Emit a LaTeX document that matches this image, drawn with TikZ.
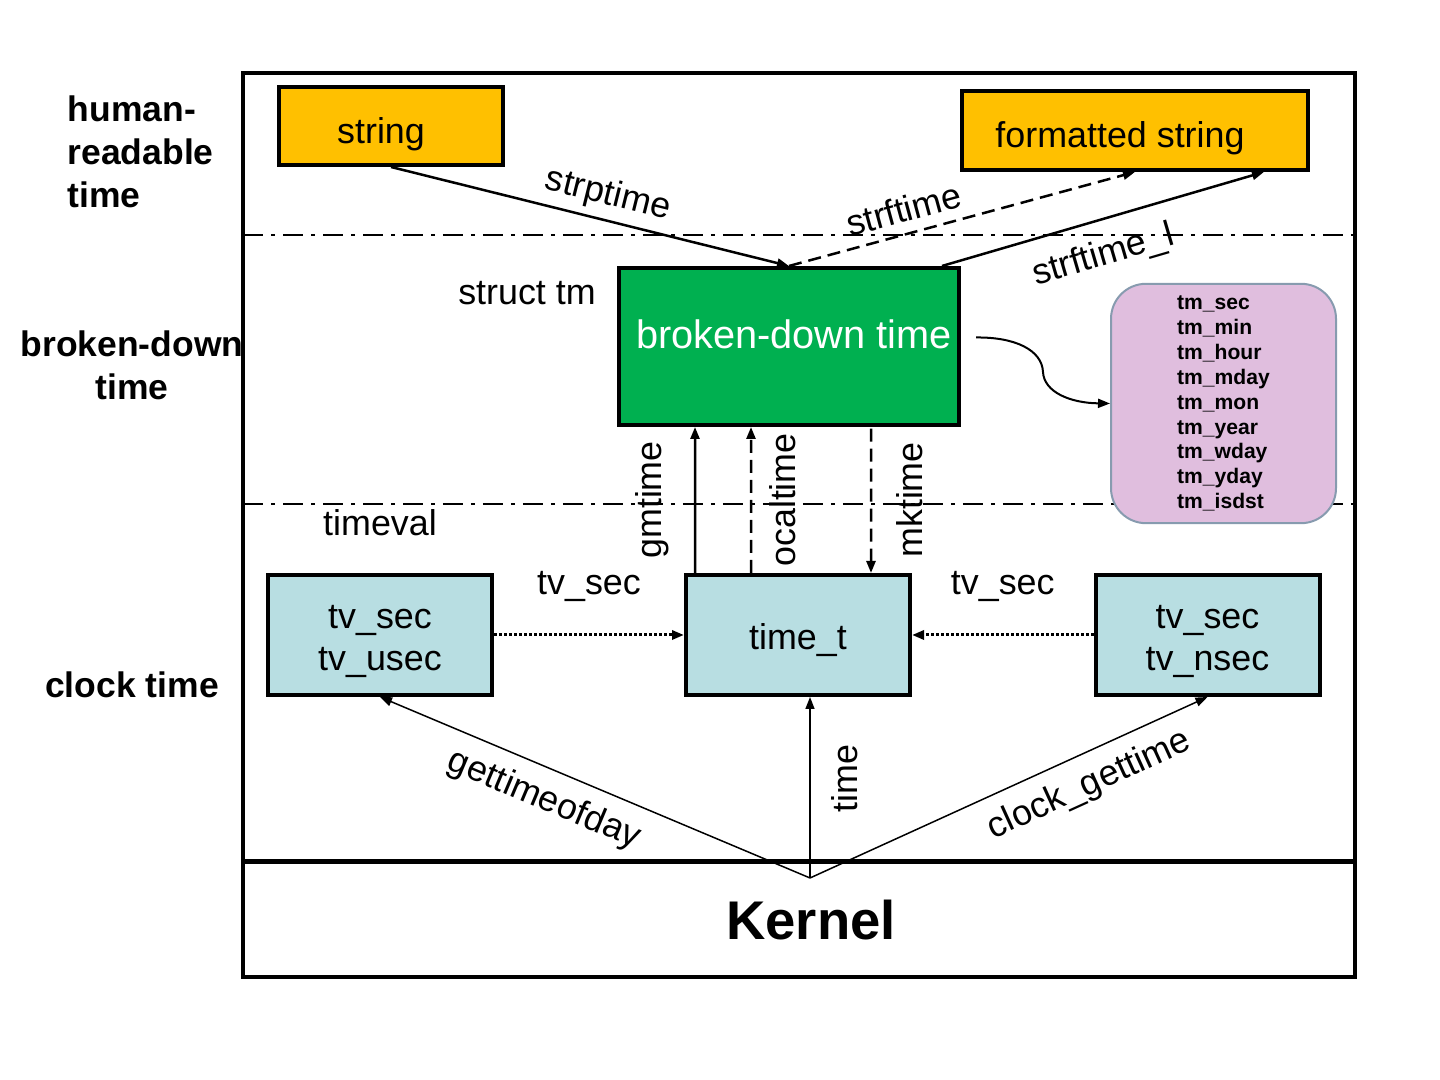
\documentclass[tikz,border=0pt]{standalone}
\usepackage{fontspec}
\setmainfont{Liberation Sans}
\usetikzlibrary{arrows.meta}
\definecolor{gold}{RGB}{255,192,0}
\definecolor{grass}{RGB}{0,176,80}
\definecolor{aqua}{RGB}{184,222,226}
\definecolor{lilac}{RGB}{224,190,222}
\definecolor{slate}{RGB}{135,155,175}
\tikzset{
  >={Triangle[length=1.2mm,width=0.9mm]},
  box/.style={draw=black,fill=#1,line width=0.04cm,inner sep=0pt,align=center,
    text height=0.36cm,font=\fontsize{10.2}{12.2}\selectfont},
  box/.default=aqua,
  fields/.style={draw=slate,fill=lilac,rounded corners=0.35cm,line width=0.02cm,
    minimum width=2.25cm,minimum height=2.31cm,align=left,
    font=\bfseries\fontsize{6}{7.1}\selectfont},
  flow/.style={->,line width=0.025cm},
  thin flow/.style={->,line width=0.015cm},
  dashy/.style={dash pattern=on 0.13cm off 0.07cm},
  dotty/.style={line width=0.03cm,dash pattern=on 0.03cm off 0.02cm},
  tag/.style={font=\fontsize{10.2}{12}\selectfont,inner sep=0pt},
  band/.style={font=\bfseries\fontsize{10.1}{12.2}\selectfont,align=center,inner sep=0pt},
  layer line/.style={line width=0.025cm,dash pattern=on 0.2cm off 0.08cm on 0.04cm off 0.08cm},
}
\begin{document}
\begin{tikzpicture}
\useasboundingbox (0,0) rectangle (14.4,10.8);
\coordinate (nw) at (2.43,10.07);
\coordinate (se) at (13.55,1.03);
\draw[layer line] (2.43,8.45) -- (13.55,8.45);
\draw[layer line] (2.43,5.76) -- (13.55,5.76);

% row labels
\node[band,anchor=west,align=left] (hum) at (0.67,9.28) {human-\\readable\\time};
\node[band] (brk) at (1.32,7.15) {broken-down\\time};
\node[band] (clk) at (1.32,3.95) {clock time};

% boxes
\node[box=gold,text height=0.42cm,minimum width=2.24cm,minimum height=0.78cm] (string) at (3.91,9.54) {string\hspace*{0.2cm}};
\node[box=gold,text height=0.42cm,minimum width=3.46cm,minimum height=0.79cm] (fmt) at (11.35,9.495) {formatted string\hspace*{0.3cm}};
\node[box=grass,text=white,text height=0.29cm,text depth=0.25cm,minimum width=3.40cm,minimum height=1.57cm,
  font=\fontsize{11.3}{13}\selectfont] (bdt) at (7.89,7.335) {\hspace*{0.1cm}broken-down time};
\node[fields] (tmf) at (12.235,6.765)
  {tm\_sec\\tm\_min\\tm\_hour\\tm\_mday\\tm\_mon\\tm\_year\\tm\_wday\\tm\_yday\\tm\_isdst};
\node[box,text height=0.79cm,minimum width=2.24cm,minimum height=1.20cm] (tv) at (3.80,4.45) {tv\_sec\\tv\_usec};
\node[box,minimum width=2.24cm,minimum height=1.20cm] (timet) at (7.98,4.45) {time\_t};
\node[box,text height=0.79cm,minimum width=2.24cm,minimum height=1.20cm] (ts) at (12.075,4.45) {tv\_sec\\tv\_nsec};

\node[tag] (stm) at (5.27,7.87) {struct tm};
\node[tag] (tval) at (3.80,5.57) {timeval};

% conversions
\draw[flow] (string.south) -- (bdt.north) node[tag,sloped,above=2pt,pos=0.53] (lstrp) {strptime};
\draw[flow,dashy] (bdt.north) -- (fmt.south) node[tag,sloped,above=3pt,pos=0.35] (lstrf) {strftime};
\draw[flow] ([xshift=-0.19cm]bdt.north east) -- ([xshift=-0.46cm]fmt.south east)
  node[tag,sloped,below=5pt,pos=0.47] (lstrfl) {strftime\_l};
\draw[->,line width=0.02cm] ([shift={(0.15,0.09)}]bdt.east) .. controls (10.15,7.43) and (10.42,7.30) .. (10.43,7.08)
  .. controls (10.44,6.88) and (10.7,6.77) .. (tmf.west);

\draw[flow] ([xshift=0.11cm]timet.north west) -- ([xshift=0.78cm]bdt.south west)
  node[tag,sloped,above=7pt,midway] (lgm) {gmtime};
\draw[flow,dashy] ([xshift=0.67cm]timet.north west) -- ([xshift=1.34cm]bdt.south west)
  node[tag,sloped,below=5pt,midway] (lloc) {ocaltime};
\draw[flow,<-,dashy] ([xshift=1.87cm]timet.north west) -- ([xshift=2.54cm]bdt.south west)
  node[tag,sloped,below=7pt,midway] (lmk) {mktime};

\draw[flow,dotty] (tv.east) -- (timet.west) node[tag,above=9pt,midway] (lsec1) {tv\_sec};
\draw[flow,dotty] (ts.west) -- (timet.east) node[tag,above=9pt,midway] (lsec2) {tv\_sec};

% kernel calls
\coordinate (k) at (8.10,2.02);
\draw[thin flow] (k) -- (tv.south) node[tag,sloped,below=4pt,pos=0.59] (lgtod) {gettimeofday};
\draw[thin flow] (k) -- (k |- timet.south) node[tag,sloped,below=6pt,pos=0.55] (ltime) {time};
\draw[thin flow] (k) -- (ts.south) node[tag,sloped,below=4pt,pos=0.67] (lclk) {clock\_gettime};

\draw[line width=0.05cm] (2.43,2.18) -- (13.55,2.18);
\draw[line width=0.04cm] (nw) rectangle (se);
\node[font=\bfseries\fontsize{15.5}{18}\selectfont,inner sep=0pt] (kern) at (8.11,1.60) {Kernel};
\end{tikzpicture}
\end{document}
